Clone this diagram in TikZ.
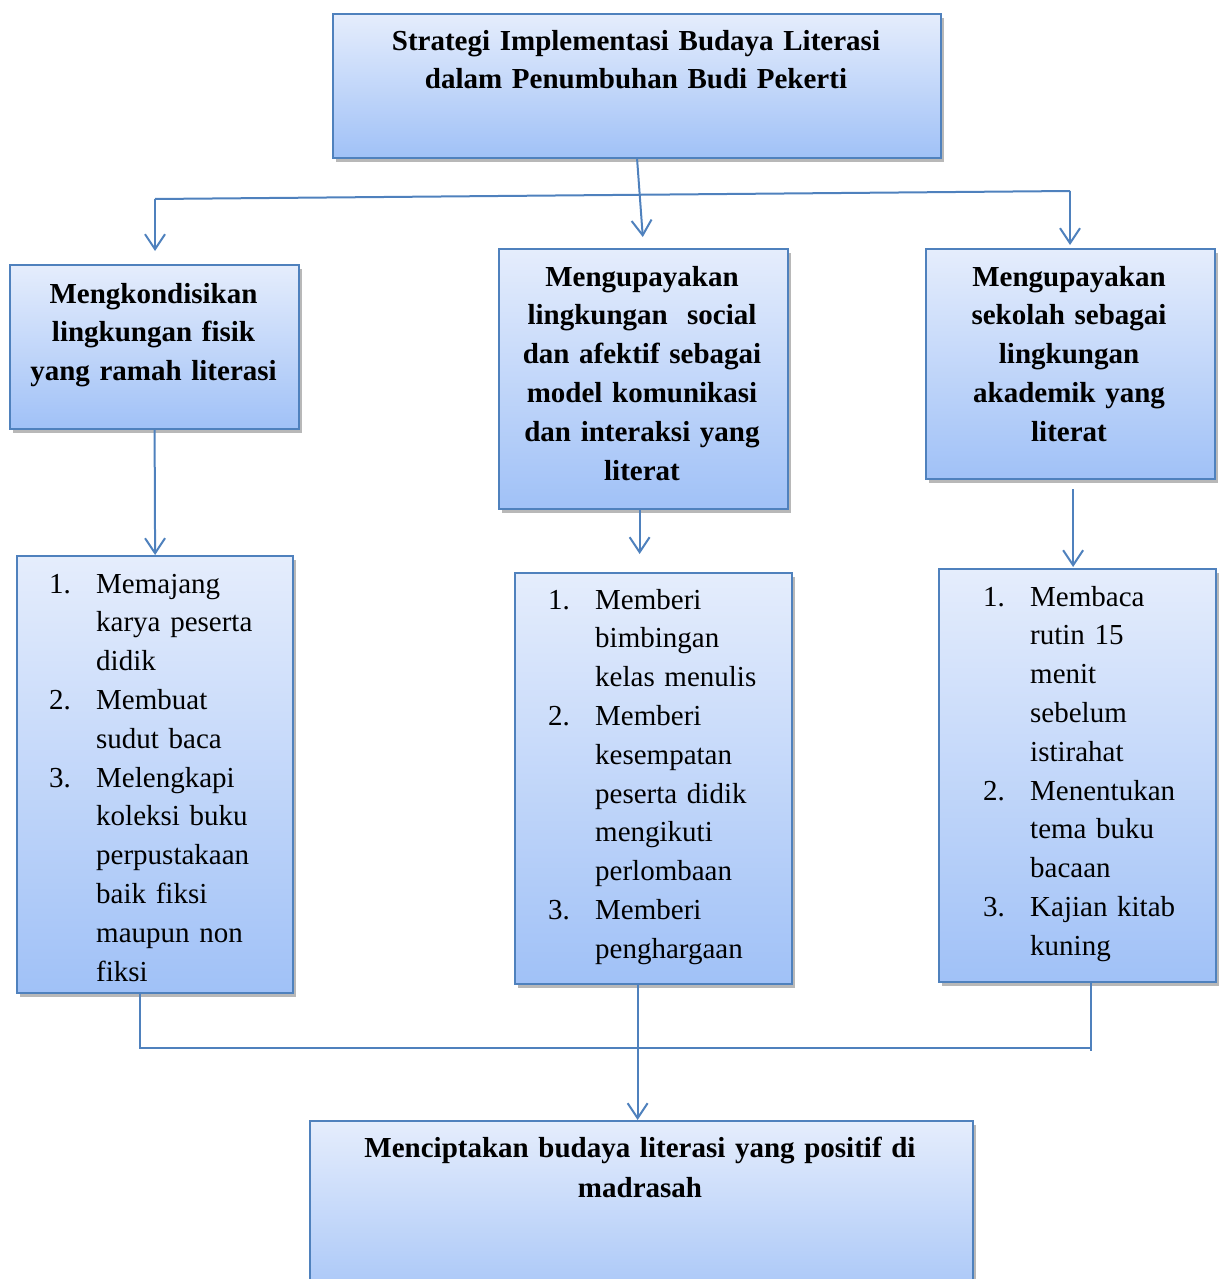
\documentclass[tikz,border=0pt]{standalone}
\usepackage{fontspec}
\setmainfont{Liberation Serif}
\usetikzlibrary{arrows.meta,shadows}
\definecolor{bord}{RGB}{79,129,189}
\definecolor{gtop}{RGB}{229,237,252}
\definecolor{gbot}{RGB}{160,193,247}
\setlength{\parindent}{0pt}
\newcommand{\lnum}[1]{\makebox[47pt][l]{#1}}
\newcommand{\lind}{\hspace*{47pt}}
\tikzset{
 box/.style={draw=bord, line width=2.2pt, top color=gtop, bottom color=gbot, anchor=north west, inner sep=0pt,
   drop shadow={shadow xshift=3pt, shadow yshift=-4pt, fill=black, opacity=0.28}},
 conn/.style={draw=bord, line width=2pt},
 arr/.style={conn, -{Straight Barb[length=15pt,width=20pt]}},
 btxt/.style={font=\fontsize{29}{38.8}\selectfont\bfseries, align=center, inner sep=0pt, anchor=north},
 ltxt/.style={font=\fontsize{29}{38.8}\selectfont, align=left, inner sep=0pt, anchor=north west, text width=265pt},
}
\begin{document}
\begin{tikzpicture}[x=1pt,y=-1pt]
\useasboundingbox (0,0) rectangle (1221,1279);
\clip (0,0) rectangle (1221,1279);
% boxes
\node[box, minimum width=608pt, minimum height=144pt] (top) at (332,13) {};
\node[box, minimum width=289pt, minimum height=164pt] (l1) at (9,264) {};
\node[box, minimum width=289pt, minimum height=260pt] (m1) at (498,248) {};
\node[box, minimum width=289pt, minimum height=230pt] (r1) at (925,248) {};
\node[box, minimum width=276pt, minimum height=437pt] (l2) at (16,555) {};
\node[box, minimum width=277pt, minimum height=411pt] (m2) at (514,572) {};
\node[box, minimum width=277pt, minimum height=413pt] (r2) at (938,568) {};
\node[box, minimum width=663pt, minimum height=200pt] (bot) at (309,1120) {};
% texts
\node[btxt, text width=600pt] (ttop) at (636,22.8) {\strut Strategi Implementasi Budaya Literasi\\dalam Penumbuhan Budi Pekerti};
\node[btxt, text width=285pt] (tl1) at (153.5,275.8) {\strut Mengkondisikan\\lingkungan fisik\\yang ramah literasi};
\node[btxt, text width=285pt] (tm1) at (642,258.8) {\strut Mengupayakan\\lingkungan\ \ social\\dan afektif sebagai\\model komunikasi\\dan interaksi yang\\literat};
\node[btxt, text width=285pt] (tr1) at (1069,258.8) {\strut Mengupayakan\\sekolah sebagai\\lingkungan\\akademik yang\\literat};
\node[btxt, font=\fontsize{29}{40}\selectfont\bfseries, text width=650pt] (tbot) at (640,1129) {\strut Menciptakan budaya literasi yang positif di\\madrasah};
\node[ltxt] (tl2) at (49,565.8) {\strut\lnum{1.}Memajang\\\lind karya peserta\\\lind didik\\\lnum{2.}Membuat\\\lind sudut baca\\\lnum{3.}Melengkapi\\\lind koleksi buku\\\lind perpustakaan\\\lind baik fiksi\\\lind maupun non\\\lind fiksi};
\node[ltxt] (tm2) at (548,581.8) {\strut\lnum{1.}Memberi\\\lind bimbingan\\\lind kelas menulis\\\lnum{2.}Memberi\\\lind kesempatan\\\lind peserta didik\\\lind mengikuti\\\lind perlombaan\\\lnum{3.}Memberi\\\lind penghargaan};
\node[ltxt] (tr2) at (983,578.8) {\strut\lnum{1.}Membaca\\\lind rutin 15\\\lind menit\\\lind sebelum\\\lind istirahat\\\lnum{2.}Menentukan\\\lind tema buku\\\lind bacaan\\\lnum{3.}Kajian kitab\\\lind kuning};
% connectors
\coordinate (hl) at (155,199);
\coordinate (hr) at (1070,191);
\draw[conn] (hl) -- (hr);
\draw[arr, shorten >=11pt] (top.south) -- (m1.north);
\draw[arr, shorten >=13pt] (hl) -- (hl |- l1.north);
\draw[arr, shorten >=3pt] (hr) -- (hr |- r1.north);
\draw[arr] (l1.south) -- (l2.north);
\coordinate (mx1) at ([xshift=-4pt]m1.south);
\draw[arr, shorten >=18pt] (mx1) -- (mx1 |- m2.north);
\coordinate (rx1) at ([xshift=2.5pt]r1.south);
\draw[arr, shorten <=9pt, shorten >=1pt] (rx1) -- (rx1 |- r2.north);
\coordinate (bl) at (140,1048);
\coordinate (br) at (1091,1048);
\draw[conn] (bl |- l2.south) -- (bl) -- (br);
\draw[conn] (br |- r2.south) -- ([yshift=-3pt]br);
\coordinate (mx2) at ([xshift=-4pt]bot.north);
\draw[arr] (mx2 |- m2.south) -- (mx2);
\end{tikzpicture}
\end{document}
